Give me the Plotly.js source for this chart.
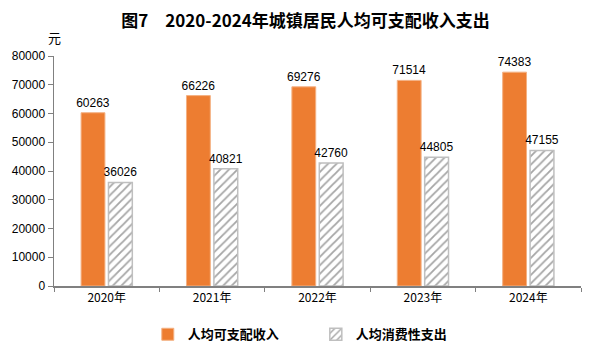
<!DOCTYPE html>
<html><head><meta charset="utf-8">
<script src="https://cdn.plot.ly/plotly-3.0.1.min.js"></script>
<style>html,body{margin:0;padding:0;background:#fff}#c{width:599px;height:359px}</style>
</head><body><div id="c"></div>
<script>
const years = ["2020年","2021年","2022年","2023年","2024年"];
const income = [60263, 66226, 69276, 71514, 74383];
const spending = [36026, 40821, 42760, 44805, 47155];
const seriesNames = ["人均可支配收入","人均消费性支出"];
const yTicks = [0,10000,20000,30000,40000,50000,60000,70000,80000];

const numFont = {family:"Liberation Sans Narrow, Liberation Sans, sans-serif", size:12, color:"#000"};
const data = [
  {type:"bar", x:years, y:income, name:seriesNames[0],
   marker:{color:"#ED7D31", line:{color:"#F4B183", width:1}},
   text:income.map(String), textposition:"outside", cliponaxis:false, constraintext:"none",
   textfont:numFont},
  {type:"bar", x:years, y:spending, name:seriesNames[1],
   marker:{color:"#ffffff", line:{color:"#BFBFBF", width:1.5},
     pattern:{shape:"/", fgcolor:"#A6A6A6", bgcolor:"#ffffff", size:6, solidity:0.3}},
   text:spending.map(String), textposition:"outside", cliponaxis:false, constraintext:"none",
   textfont:numFont}
];
const layout = {
  width:599, height:359,
  margin:{l:54, r:18, t:56, b:73, autoexpand:false},
  paper_bgcolor:"#fff", plot_bgcolor:"#fff",
  barmode:"group", bargap:0.48, bargroupgap:0.13,
  title:{text:"图7　2020-2024年城镇居民人均可支配收入支出", x:0.51, xanchor:"center", y:0.94, yanchor:"middle",
    font:{family:"Noto Sans CJK SC, sans-serif", size:17, color:"#000", weight:"bold"}},
  xaxis:{type:"category", showline:true, linecolor:"#808080", linewidth:1.5, automargin:false,
    ticks:"outside", tickson:"boundaries", ticklen:4, tickcolor:"#808080",
    tickfont:{family:"Noto Sans CJK SC, sans-serif", size:12, color:"#000"}, showgrid:false, zeroline:false},
  yaxis:{range:[0,80000], tickvals:yTicks, ticktext:yTicks.map(String), showline:true, linecolor:"#808080", linewidth:1.5,
    automargin:false, ticks:"outside", ticklen:5, tickcolor:"#808080", showgrid:false, zeroline:false,
    tickfont:numFont},
  showlegend:true,
  legend:{orientation:"h", x:0.178, xanchor:"left", y:-0.21, yanchor:"middle",
    font:{family:"Noto Sans CJK SC, sans-serif", size:13, color:"#000", weight:"bold"},
    itemwidth:30, tracegroupgap:0, entrywidth:123},
  annotations:[{text:"元", xref:"paper", yref:"paper", x:0.0, y:1.08, xanchor:"center", yanchor:"middle", showarrow:false,
    font:{family:"Noto Sans CJK SC, sans-serif", size:13, color:"#000"}}]
};
Plotly.newPlot("c", data, layout, {displayModeBar:false, staticPlot:true});
</script></body></html>
